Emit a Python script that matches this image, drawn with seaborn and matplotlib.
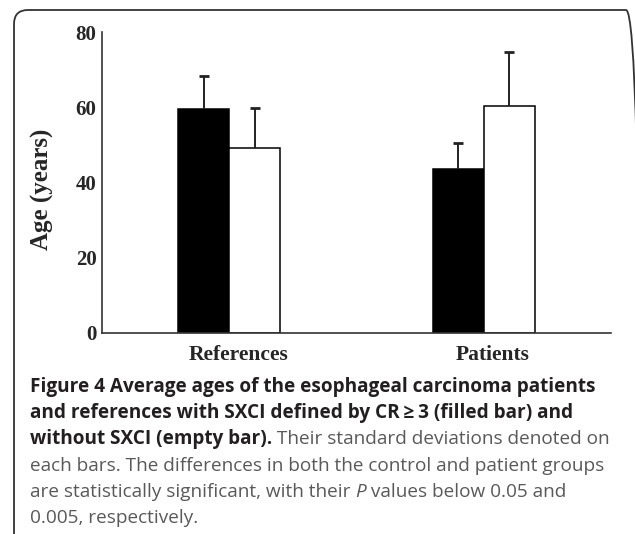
import pandas as pd
import seaborn as sns
import matplotlib.pyplot as plt
import matplotlib.transforms as mtransforms
from matplotlib.patches import FancyBboxPatch

# Dados
grupos = ["References", "Patients"]
condicao = ["with SXCI", "without SXCI"]
media_com = [59.5, 43.7]
media_sem = [49.1, 60.3]
dp_com = [8.8, 6.7]
dp_sem = [10.6, 14.4]

df = pd.DataFrame({
    "Grupo": grupos * 2,
    "Condicao": [condicao[0]] * 2 + [condicao[1]] * 2,
    "Idade": media_com + media_sem,
    "DP": dp_com + dp_sem,
})

sns.set_style("white")
plt.rcParams["font.family"] = ["Liberation Serif", "DejaVu Serif"]

W, H = 635, 534
fig = plt.figure(figsize=(W / 100, H / 100), dpi=100)

# moldura arredondada (em pixels)
moldura = FancyBboxPatch((14, -20), 640 - 14, H - 10 + 20,
                         boxstyle="round,pad=0,rounding_size=14",
                         transform=None, fill=False,
                         edgecolor="#333333", linewidth=1.3)
fig.patches.append(moldura)

ax = fig.add_axes([102 / W, 1 - 333 / H, (611 - 102) / W, (333 - 32) / H])

sns.barplot(data=df, x="Grupo", y="Idade", hue="Condicao", order=grupos,
            hue_order=condicao, palette={"with SXCI": "black", "without SXCI": "white"},
            width=0.4, edgecolor="black", linewidth=1.1, errorbar=None,
            legend=False, ax=ax)

# barras de erro só para cima
for p, (_, row) in zip(ax.patches, df.iterrows()):
    x = p.get_x() + p.get_width() / 2
    _, caps, _ = ax.errorbar(x, p.get_height(), yerr=[[0], [row["DP"]]], fmt="none",
                             ecolor="#222222", elinewidth=1.4, capsize=3.8, capthick=2)
    caps[0].remove()

ax.set_xlim(-0.5, 1.5)
ax.set_ylim(0, 80)
ax.set_yticks([0, 20, 40, 60, 80])
ax.set_xticks([0.5, 1.5], minor=True)
ax.tick_params(axis="y", direction="in", length=5, width=1.2, color="#333333",
               labelsize=15, pad=4)
ax.tick_params(axis="x", which="major", length=0, labelsize=15.5, pad=9)
ax.tick_params(axis="x", which="minor", direction="in", length=5, width=1.2,
               color="#333333")
desloc = mtransforms.ScaledTranslation(9 / 100, 0, fig.dpi_scale_trans)
for lab in ax.get_xticklabels():
    lab.set_fontweight("bold")
    lab.set_transform(lab.get_transform() + desloc)
for lab in ax.get_yticklabels():
    lab.set_fontweight("bold")
ax.set_xlabel("")
ax.set_ylabel("")
fig.text(42 / W, 1 - 189 / H, "Age (years)", rotation=90, ha="center", va="center",
         fontsize=18, fontweight="bold")
sns.despine(ax=ax)
for s in ["left", "bottom"]:
    ax.spines[s].set_color("#333333")
    ax.spines[s].set_linewidth(1.2)

# legenda da figura
fonte = ["Open Sans", "DejaVu Sans"]
negrito = dict(fontweight="bold", color="#231f20")
normal = dict(fontweight="normal", color="#58595b")
linhas = [
    [("Figure 4 Average ages of the esophageal carcinoma patients", negrito)],
    [("and references with SXCI defined by CR\u2009\u2265\u20093 (filled bar) and", negrito)],
    [("without SXCI (empty bar).", negrito), (" Their standard deviations denoted on", normal)],
    [("each bars. The differences in both the control and patient groups", normal)],
    [("are statistically significant, with their ", normal),
     ("P", dict(normal, fontstyle="italic")), (" values below 0.05 and", normal)],
    [("0.005, respectively.", normal)],
]

fig.canvas.draw()
renderer = fig.canvas.get_renderer()
y0 = 392
for i, partes in enumerate(linhas):
    x = 30
    y = 1 - (y0 + i * 26.2) / H
    for texto, estilo in partes:
        t = fig.text(x / W, y, texto, ha="left", va="baseline", fontsize=13.7,
                     family=fonte, **estilo)
        bb = t.get_window_extent(renderer)
        x += bb.width

fig.savefig("out.png", dpi=100)
